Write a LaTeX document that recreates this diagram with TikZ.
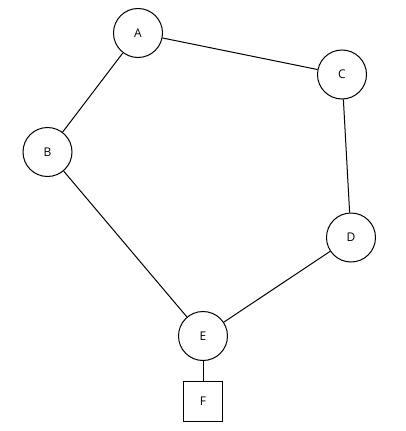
\documentclass[tikz,border=0pt]{standalone}
\usepackage{fontspec}
\setmainfont{Open Sans}
\begin{document}
\begin{tikzpicture}[x=1pt,y=-1pt,
  vert/.style={circle,draw=black,line width=1pt,minimum size=49pt,inner sep=0pt,font=\fontsize{12}{14}\selectfont,text=black},
  sq/.style={rectangle,draw=black,line width=1pt,minimum width=39pt,minimum height=40pt,inner sep=0pt,font=\fontsize{12}{14}\selectfont,text=black},
  edge/.style={line width=1pt,draw=black}]
\useasboundingbox (0,0) rectangle (406,431);
\node[vert] (A) at (138,33) {A};
\node[vert] (B) at (47.5,152) {B};
\node[vert] (C) at (342,74.5) {C};
\node[vert] (D) at (351,237.5) {D};
\node[vert] (E) at (203,336) {E};
\node[sq] (F) at (203,401) {F};
\draw[edge] (A) -- (B);
\draw[edge] (A) -- (C);
\draw[edge] (C) -- (D);
\draw[edge] (B) -- (E);
\draw[edge] (D) -- (E);
\draw[edge] (E) -- (F);
\end{tikzpicture}
\end{document}
